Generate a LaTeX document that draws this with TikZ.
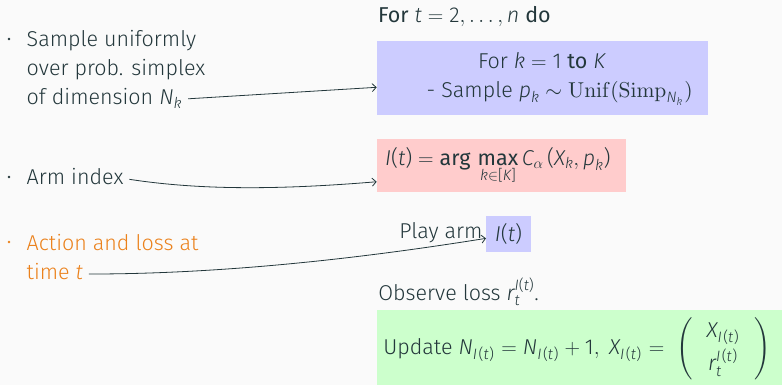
\RequirePackage{fix-cm}
\documentclass[tikz,border=0pt]{standalone}
\usepackage{amsmath}
\usepackage{graphicx}
\usepackage[no-math]{fontspec}
\setmainfont{Fira Sans Light}[BoldFont={Fira Sans}, ItalicFont={Fira Sans Light Italic}, BoldItalicFont={Fira Sans Italic}]
\usetikzlibrary{arrows.meta}

\definecolor{bgc}{HTML}{FAFAFA}
\definecolor{ink}{HTML}{23373B}
\definecolor{alert}{HTML}{EB811B}
\definecolor{boxblue}{RGB}{204,204,255}
\definecolor{boxred}{RGB}{255,204,204}
\definecolor{boxgreen}{RGB}{204,255,204}

% italic Fira letters and upright Fira symbols inside math
\newcommand{\vi}[1]{\textit{#1}}
\newcommand{\fp}[1]{\textup{#1}}
\newcommand{\It}{\vi{I}\fp{(}\vi{t}\fp{)}}
% the same index, loosely spaced for use as a subscript
\newcommand{\Its}{\vi{I}\hspace{1.5pt}\fp{(}\vi{t}\hspace{0.5pt}\fp{)}\hspace{1pt}}
\newcommand{\fsz}{\fontsize{21.5}{26}\selectfont}
% Computer Modern upright text at its 10pt design, enlarged
\newcommand{\cmbig}[1]{\scalebox{2.15}{\fontsize{10}{12}\selectfont$#1$}}

\begin{document}
\begin{tikzpicture}[x=1pt,y=-1pt,
  every node/.style={inner sep=0pt, outer sep=0pt, text=ink, font=\fsz},
  txt/.style={anchor=base west},
  panel/.style={anchor=north west, draw=none},
  link/.style={draw=ink, line width=0.8pt,
    -{Straight Barb[length=4pt,width=8pt,line width=0.8pt]}},
  dot/.style={fill=ink}]

\fill[bgc] (0,0) rectangle (782,385);
\useasboundingbox (0,0) rectangle (782,385);

% colored panels of the algorithm
\node[panel, fill=boxblue, minimum width=331.6, minimum height=74] (pbox) at (376.7,41) {};
\node[panel, fill=boxred, minimum width=249.3, minimum height=52.7] (ibox) at (376.7,139) {};
\node[panel, fill=boxblue, minimum width=45, minimum height=35.7] (armbox) at (486,216) {$\It$};
\node[panel, fill=boxgreen, minimum width=405.3, minimum height=75] (ubox) at (376.7,310) {};

% algorithm text
\node[txt] (for) at (378,23) {\textbf{For} $\vi{t}=\fp{2},\ldots,\vi{n}$ \textbf{do}};
\node[txt] (fork) at (478,68.3) {For $\vi{k}=\fp{1}$ \textbf{to} $\vi{K}$};
\node[txt] (samp) at (426.7,97.3) {- Sample $\vi{p}_{\vi{k}}\sim$ \cmbig{\mathrm{Unif}(\mathrm{Simp}_{\vi{N}_{\vi{k}}})}};
\node[txt] (argmax) at (385,165) {$\It = \fp{\bfseries arg}\,\mathop{\fp{\bfseries max}}\limits_{\vi{k}\in\fp{[}\vi{K}\fp{]}} \vi{C}_{\alpha}\,\fp{(}\vi{X}_{\vi{k}}, \vi{p}_{\vi{k}}\fp{)}$};
\node[txt] (play) at (399.3,238.3) {Play arm};
\node[txt] (obs) at (378.3,300) {Observe loss $\vi{r}_{\vi{t}}^{\It}$.};
\node[txt] (upd) at (383.3,354.3) {Update $\vi{N}_{\Its} = \vi{N}_{\Its} + \fp{1},\; \vi{X}_{\Its} = \;\left(\rule[-24pt]{0pt}{60pt}\hspace{14pt}\begin{array}{@{}c@{}}\vi{X}_{\Its}\\[3pt]\vi{r}_{\vi{t}}^{\Its}\end{array}\hspace{14pt}\right)$};

% annotations on the left
\fill[dot] (9,39) circle (1.3);
\node[txt] (s1) at (26.7,47) {Sample uniformly};
\node[txt] (s2) at (26.7,76) {over prob. simplex};
\node[txt] (s3) at (26.7,105) {of dimension $\vi{N}_{\vi{k}}$};
\fill[dot] (9,177) circle (1.3);
\node[txt] (arm) at (26.7,184.3) {Arm index};
\fill[alert] (9,242) circle (1.3);
\node[txt, text=alert] (act1) at (26.7,250) {Action and loss at};
\node[txt, text=alert] (act2) at (26.7,279) {time $\vi{t}$};

% connectors
\draw[link] ([xshift=6pt]s3.east) -- ([yshift=-9.3pt]pbox.west);
\draw[link] ([xshift=6pt,yshift=-3pt]arm.east) .. controls +(72,11) and +(-97,8) .. ([yshift=-16.4pt]ibox.west);
\draw[link] ([xshift=6pt,yshift=-3pt]act2.east) .. controls +(150,0) and +(-100,16) .. ([yshift=-4.5pt]armbox.west);
\end{tikzpicture}
\end{document}
